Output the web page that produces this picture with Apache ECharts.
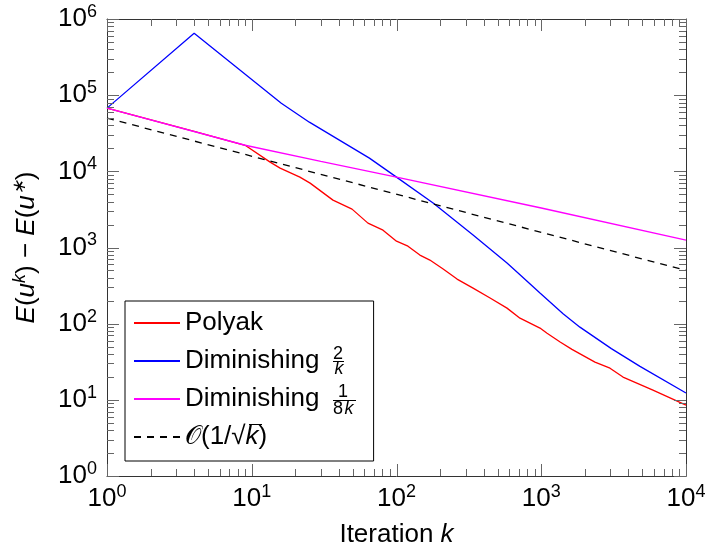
<!DOCTYPE html>
<html>
<head>
<meta charset="utf-8">
<script src="https://cdn.jsdelivr.net/npm/echarts@6/dist/echarts.min.js"></script>
<style>
html, body { margin: 0; padding: 0; background: #fff; }
#main { width: 707px; height: 548px; }
</style>
</head>
<body>
<div id="main"></div>
<script>
// values (log-log)
var polyakK = [1, 4, 9, 13.4, 15.7, 21.5, 25.3, 36.4, 49.3, 63.5, 80.7, 100, 120, 145, 170, 210, 262, 338, 443, 580, 713, 980, 1097, 1350, 1630, 2350, 2985, 3670, 5910, 10000];
var polyakE = [67600, 33500, 22000, 13200, 11000, 8400, 7000, 4190, 3190, 2090, 1690, 1210, 1040, 795, 684, 521, 385, 293, 217, 160, 118, 87.5, 75, 57.4, 46, 31.3, 26, 19.9, 13.4, 8.5];

var dim2K = [1, 4, 16, 25, 65, 100, 179, 338, 580, 713, 980, 1415, 1850, 3050, 4810, 10000];
var dim2E = [67600, 650000, 78500, 44200, 14900, 8400, 3830, 1455, 624, 440, 252, 135, 90, 47, 27.5, 12.3];

var dim8K = [1, 9, 30, 100, 1000, 10000];
var dim8E = [67600, 22000, 13500, 8400, 3300, 1250];

var rateK = [1, 10000];
var rateE = [50000, 500];

var xTickExp = [0, 1, 2, 3, 4];
var yTickExp = [0, 1, 2, 3, 4, 5, 6];

var seriesNames = ['Polyak', 'Diminishing 2/k', 'Diminishing 1/8k', 'O(1/sqrt k)'];

var FONT = 'Liberation Sans';
var frame = '#333';
var tickCol = '#666';

var xMin = Math.pow(10, xTickExp[0]), xMax = Math.pow(10, xTickExp[xTickExp.length - 1]);
var yMin = Math.pow(10, yTickExp[0]), yMax = Math.pow(10, yTickExp[yTickExp.length - 1]);

function pairs(ks, es) {
    return ks.map(function (k, i) { return [k, es[i]]; });
}

// tick values of a log axis: decades (long) and 2..9 (short)
function logTicks(exps) {
    var out = [];
    exps.forEach(function (e, i) {
        for (var m = 1; m <= 9; m++) {
            if (i === exps.length - 1 && m > 1) break;
            out.push([m * Math.pow(10, e), m === 1 ? 12 : 7]);
        }
    });
    return out;
}

function powLabel(v) {
    var e = Math.round(Math.log(v) / Math.LN10);
    return '{b|10}{s|' + e + '}';
}

var tickRich = {
    b: { fontSize: 26, fontFamily: FONT, color: '#000' },
    s: { fontSize: 18, fontFamily: FONT, color: '#000', padding: [0, 0, 14, 0] }
};

function xAxisOf(pos) {
    return {
        type: 'log', logBase: 10, position: pos, min: xMin, max: xMax,
        splitNumber: xTickExp.length - 1,
        axisLine: { show: true, onZero: false, lineStyle: { color: frame, width: 1 } },
        axisTick: { show: false },
        axisLabel: { show: false },
        splitLine: { show: false }
    };
}
function yAxisOf(pos, labels) {
    return {
        type: 'log', logBase: 10, position: pos, min: yMin, max: yMax,
        splitNumber: yTickExp.length - 1,
        axisLine: { show: true, onZero: false, lineStyle: { color: frame, width: 1 } },
        axisTick: { show: false },
        axisLabel: { show: labels, formatter: powLabel, margin: 10, rich: tickRich },
        splitLine: { show: false }
    };
}

var yMain = yAxisOf('left', true);
yMain.name = '{i|E}{t|(}{i|u}{s|k}{t|) − }{i|E}{t|(}{i|u}{s|∗}{t|)}';
yMain.nameLocation = 'middle';
yMain.nameGap = 64;
yMain.nameTextStyle = { rich: {
    t: { fontSize: 26, fontFamily: FONT, color: '#000' },
    i: { fontSize: 26, fontFamily: FONT, fontStyle: 'italic', color: '#000' },
    s: { fontSize: 18, fontFamily: FONT, fontStyle: 'italic', color: '#000', padding: [0, 0, 14, 0] }
} };

var legendText = {};
legendText[seriesNames[0]] = 'Polyak';
legendText[seriesNames[1]] = 'Diminishing {sp|}';
legendText[seriesNames[2]] = 'Diminishing {sp|}';
legendText[seriesNames[3]] = '{o|𝒪}(1/√{i|k})';

function tickLine(x1, y1, x2, y2) {
    return { type: 'line', shape: { x1: x1, y1: y1, x2: x2, y2: y2 }, style: { stroke: tickCol, lineWidth: 1 } };
}

var chart = echarts.init(document.getElementById('main'));

var option = {
    animation: false,
    backgroundColor: '#fff',
    grid: { left: 107, right: 21, top: 19, bottom: 72, outerBoundsMode: 'none', containLabel: false },
    xAxis: [xAxisOf('bottom'), xAxisOf('top')],
    yAxis: [yMain, yAxisOf('right', false)],
    legend: {
        orient: 'vertical', left: 125, top: 301,
        padding: [7, 17, 9, 8],
        itemWidth: 46, itemHeight: 14, itemGap: 8,
        backgroundColor: '#fff', borderColor: '#000', borderWidth: 1, borderRadius: 0,
        itemStyle: { opacity: 0, borderWidth: 0 },
        data: seriesNames,
        formatter: function (name) { return legendText[name]; },
        textStyle: {
            fontSize: 26, fontFamily: FONT, color: '#000', lineHeight: 30,
            rich: {
                sp: { width: 30, lineHeight: 30 },
                i: { fontSize: 26, fontFamily: FONT, fontStyle: 'italic', color: '#000', lineHeight: 30 },
                o: { fontSize: 26, fontFamily: FONT, color: '#000', lineHeight: 30 }
            }
        }
    },
    series: [
        { name: seriesNames[0], type: 'line', data: pairs(polyakK, polyakE), symbol: 'none',
          lineStyle: { color: '#ff0000', width: 1.3 }, itemStyle: { color: '#ff0000' } },
        { name: seriesNames[1], type: 'line', data: pairs(dim2K, dim2E), symbol: 'none',
          lineStyle: { color: '#0000ff', width: 1.3 }, itemStyle: { color: '#0000ff' } },
        { name: seriesNames[2], type: 'line', data: pairs(dim8K, dim8E), symbol: 'none',
          lineStyle: { color: '#ff00ff', width: 1.3 }, itemStyle: { color: '#ff00ff' } },
        { name: seriesNames[3], type: 'line', data: pairs(rateK, rateE), symbol: 'none',
          lineStyle: { color: '#000', width: 1.3, type: [7, 6] }, itemStyle: { color: '#000' } },
        // inward ticks on bottom + top, with the decade labels under the bottom axis
        { type: 'custom', silent: true, z: 5, clip: false,
          data: logTicks(xTickExp).map(function (t) { return [t[0], yMin, t[1]]; }),
          encode: { x: 0, y: 1 },
          renderItem: function (params, api) {
              var v = api.value(0), len = api.value(2);
              var pB = api.coord([v, yMin]), pT = api.coord([v, yMax]);
              var x = Math.round(pB[0]) + 0.5;
              var kids = [
                  tickLine(x, pB[1], x, pB[1] - len),
                  tickLine(x, pT[1], x, pT[1] + len)
              ];
              if (len === 12) {
                  kids.push({ type: 'text', x: pB[0], y: pB[1] + 23,
                      style: { text: powLabel(v), rich: tickRich, fontSize: 26, fontFamily: FONT, fill: '#000',
                          align: 'center', verticalAlign: 'middle' } });
              }
              return { type: 'group', children: kids };
          } },
        // inward ticks on left + right
        { type: 'custom', silent: true, z: 5, clip: false,
          data: logTicks(yTickExp).map(function (t) { return [xMin, t[0], t[1]]; }),
          encode: { x: 0, y: 1 },
          renderItem: function (params, api) {
              var v = api.value(1), len = api.value(2);
              var pL = api.coord([xMin, v]), pR = api.coord([xMax, v]);
              var y = Math.round(pL[1]) + 0.5;
              return { type: 'group', children: [
                  tickLine(pL[0], y, pL[0] + len, y),
                  tickLine(pR[0], y, pR[0] - len, y)
              ] };
          } }
    ]
};
chart.setOption(option);

// x-axis title, stacked fractions in the legend and the radical's overbar
var g = [];
var gridMidX = (chart.convertToPixel({ xAxisIndex: 0 }, xMin) + chart.convertToPixel({ xAxisIndex: 0 }, xMax)) / 2;
g.push({ type: 'text', z: 120, x: gridMidX, y: 535, silent: true,
    style: { text: '{t|Iteration }{i|k}', fill: '#000', align: 'center', verticalAlign: 'middle',
        rich: {
            t: { fontSize: 26, fontFamily: FONT, color: '#000' },
            i: { fontSize: 26, fontFamily: FONT, fontStyle: 'italic', color: '#000' }
        } } });
function txt(s, x, y, italic) {
    g.push({ type: 'text', z: 120, x: x, y: y, silent: true,
        style: { text: s, fontSize: 18, fontFamily: FONT, fontStyle: italic ? 'italic' : 'normal',
            fill: '#000', align: 'center', verticalAlign: 'middle' } });
}
function bar(xa, xb, y) {
    g.push({ type: 'line', z: 120, silent: true, shape: { x1: xa, y1: y, x2: xb, y2: y },
        style: { stroke: '#000', lineWidth: 1 } });
}
txt('2', 338, 354, false); bar(333, 344, 361.5); txt('k', 339, 369, true);
txt('1', 343, 392, false); bar(333, 356, 400.5); txt('8', 338, 409, false); txt('k', 349, 409, true);
bar(249, 262, 424.5);
chart.setOption({ graphic: g });
</script>
</body>
</html>
